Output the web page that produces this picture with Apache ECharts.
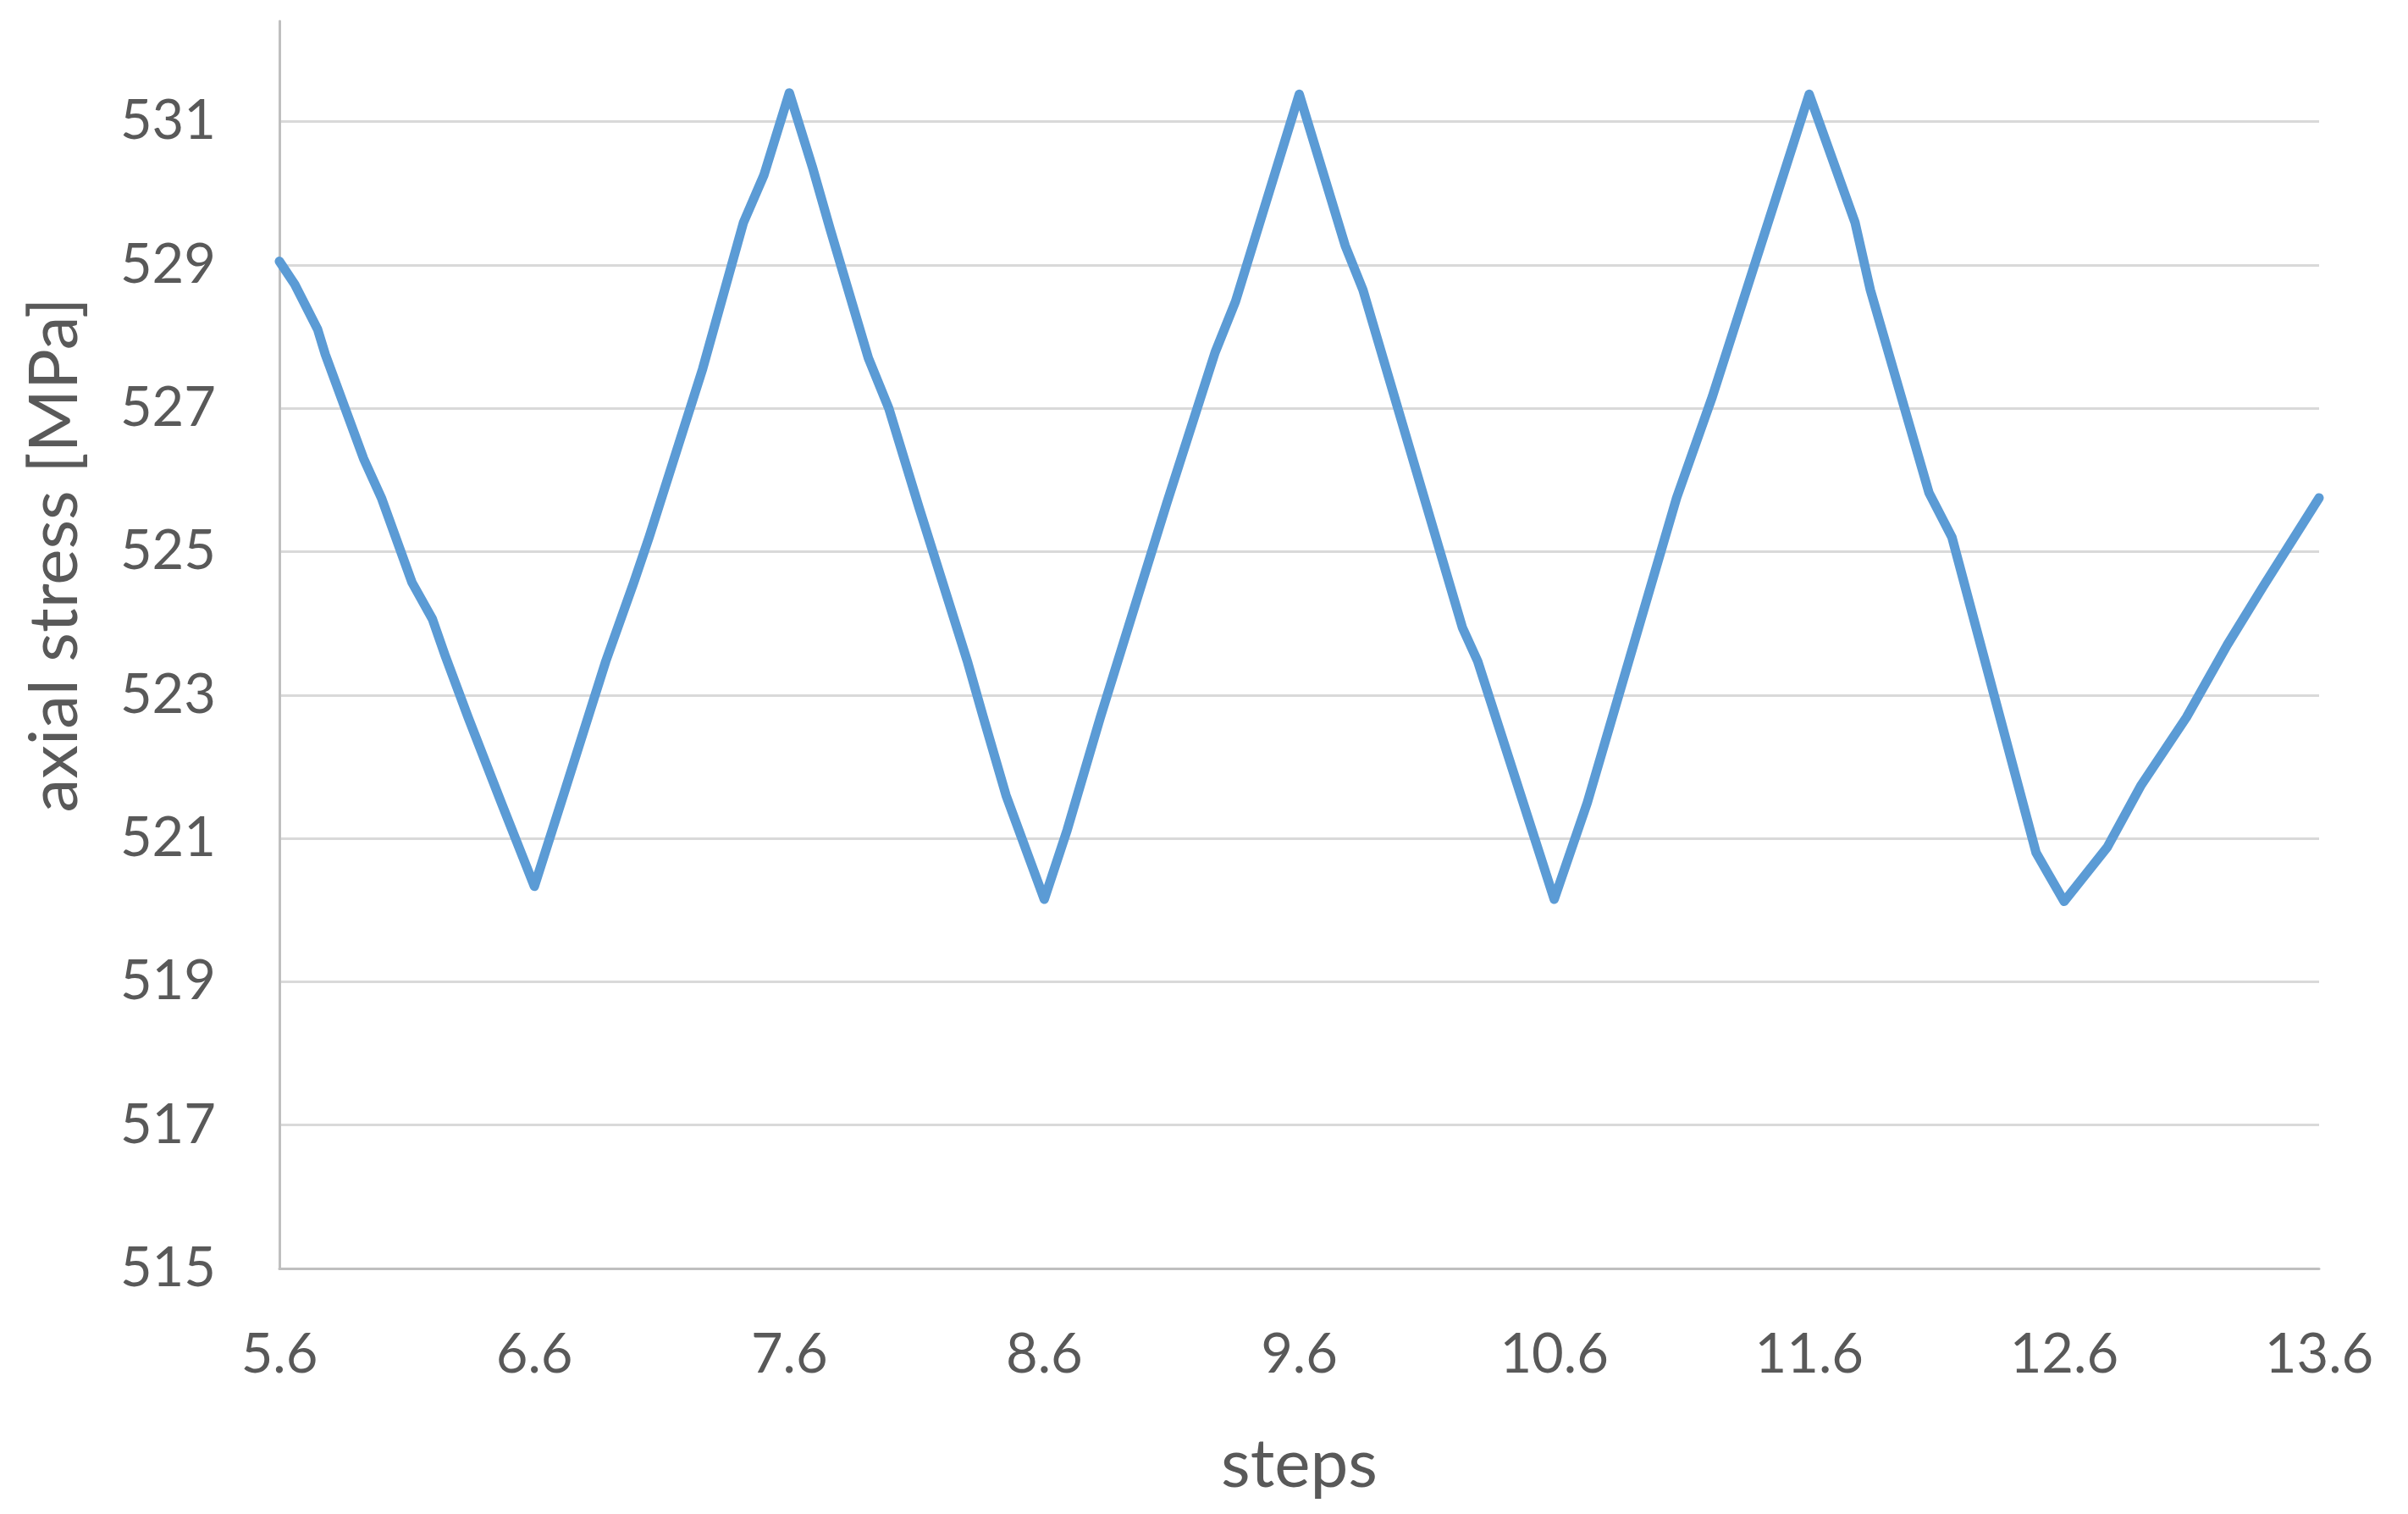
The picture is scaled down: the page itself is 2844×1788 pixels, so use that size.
<!DOCTYPE html>
<html>
<head>
<meta charset="utf-8">
<script src="https://cdn.jsdelivr.net/npm/echarts@6/dist/echarts.min.js"></script>
<style>
html,body{margin:0;padding:0;background:#fff;}
#chart{width:2844px;height:1788px;}
</style>
</head>
<body>
<div id="chart"></div>
<script>
// Data
const steps = [5.60,5.66,5.75,5.78,5.93,6.00,6.12,6.20,6.25,6.34,6.47,6.60,6.72,6.88,6.99,7.05,7.26,7.42,7.50,7.60,
  7.69,7.76,7.91,7.99,8.11,8.30,8.36,8.45,8.60,8.69,8.82,9.08,9.27,9.35,9.60,9.78,9.85,10.24,10.30,10.60,
  10.73,11.08,11.22,11.60,11.78,11.84,12.07,12.16,12.49,12.54,12.60,12.77,12.90,13.08,13.24,13.38,13.60];
const stress = [529.05,528.73,528.10,527.75,526.30,525.75,524.57,524.06,523.55,522.69,521.50,520.33,521.67,523.47,524.57,525.20,527.55,529.59,530.25,531.40,
  530.37,529.50,527.70,527.00,525.60,523.45,522.70,521.60,520.15,521.12,522.69,525.67,527.78,528.49,531.38,529.27,528.65,523.94,523.47,520.15,
  521.50,525.75,527.16,531.38,529.59,528.65,525.82,525.20,520.80,520.49,520.12,520.88,521.73,522.69,523.70,524.51,525.75];
const xTickLabels = ['5.6','6.6','7.6','8.6','9.6','10.6','11.6','12.6','13.6'];
const yTicks = [515,517,519,521,523,525,527,529,531];

const xStart = 5.6;
const seriesData = steps.map((s, i) => [s - xStart, stress[i]]);

const textColor = '#595959';
const font = 'Lato';

const chart = echarts.init(document.getElementById('chart'), null, {renderer: 'canvas'});
chart.setOption({
  backgroundColor: '#ffffff',
  animation: false,
  grid: {left: 330, right: 105, top: 25, bottom: 290, containLabel: false},
  xAxis: {
    type: 'value',
    min: 0,
    max: xTickLabels.length - 1,
    interval: 1,
    name: 'steps',
    nameLocation: 'middle',
    nameGap: 192,
    nameTextStyle: {color: textColor, fontFamily: font, fontSize: 80},
    axisLine: {show: true, onZero: false, lineStyle: {color: '#bfbfbf', width: 3}},
    axisTick: {show: false},
    splitLine: {show: false},
    axisLabel: {
      color: textColor, fontFamily: font, fontSize: 65, margin: 70,
      formatter: v => xTickLabels[Math.round(v)] || ''
    }
  },
  yAxis: {
    type: 'value',
    min: 515,
    max: 532.4,
    interval: 2,
    name: 'axial stress [MPa]',
    nameLocation: 'middle',
    nameGap: 225,
    nameTextStyle: {color: textColor, fontFamily: font, fontSize: 80, padding: [0, 0, 0, 212]},
    axisLine: {show: true, lineStyle: {color: '#bfbfbf', width: 3}},
    axisTick: {show: false},
    splitLine: {show: true, showMaxLine: false, showMinLine: false, lineStyle: {color: '#d9d9d9', width: 3}},
    axisLabel: {
      color: textColor, fontFamily: font, fontSize: 65, margin: 75, showMaxLabel: false,
      formatter: v => (yTicks.indexOf(Math.round(v)) >= 0 && Math.abs(v - Math.round(v)) < 1e-6) ? String(Math.round(v)) : ''
    }
  },
  series: [{
    type: 'line',
    data: seriesData,
    showSymbol: false,
    symbol: 'none',
    lineStyle: {color: '#5b9bd5', width: 11, join: 'round', cap: 'round'},
    clip: false
  }]
});
</script>
</body>
</html>
